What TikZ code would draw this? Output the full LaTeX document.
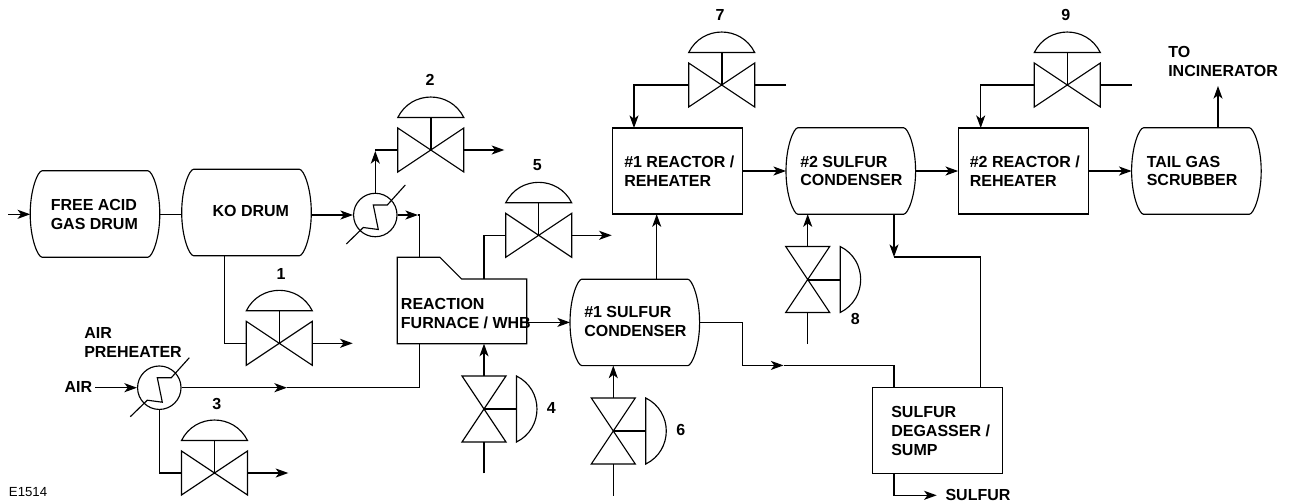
\documentclass[tikz,border=0pt]{standalone}
\usepackage{fontspec}
\setmainfont{Liberation Sans}
\usetikzlibrary{arrows.meta,calc}
\tikzset{
  ln/.style={line width=0.85pt,line join=miter},
  arw/.style={ln,-{Stealth[length=9.5pt,width=6.8pt,inset=2.6pt]}},
  boxnode/.style={rectangle,draw,line width=0.85pt,inner sep=0},
  ghost/.style={rectangle,inner sep=0,outer sep=0},
  lab/.style={font=\bfseries\fontsize{12}{14}\selectfont,align=left,anchor=west,inner sep=0},
  num/.style={font=\bfseries\fontsize{12}{14}\selectfont,inner sep=0},
  hv/.style={ghost,minimum width=49.5pt,minimum height=33pt},
  vv/.style={ghost,minimum width=33pt,minimum height=49.5pt},
  drumshape/.style={ghost,minimum width=97.2pt,minimum height=64.8pt},
}
% horizontal valve: name, cx, cy, stem width
\newcommand{\hvalve}[4]{
  \node[hv] (#1) at (#2,#3) {};
  \draw[ln] (#1.north west) -- (#1.south east) -- (#1.north east) -- (#1.south west) -- cycle;
  \draw[ln] (#2-33,#3-32.5) .. controls (#2-19.5,#3-59.8) and (#2+19.5,#3-59.8) .. (#2+33,#3-32.5) -- cycle;
  \draw[line width=#4] (#1.center) -- (#2,#3-32.5);
}
% vertical valve: name, cx, cy, stem width
\newcommand{\vvalve}[4]{
  \node[vv] (#1) at (#2,#3) {};
  \draw[ln] (#1.north west) -- (#1.north east) -- (#1.south west) -- (#1.south east) -- cycle;
  \draw[ln] (#2+32.5,#3-33) .. controls (#2+59.8,#3-19.5) and (#2+59.8,#3+19.5) .. (#2+32.5,#3+33) -- cycle;
  \draw[line width=#4] (#1.center) -- (#2+32.5,#3);
}
% drum: name, cx, cy
\newcommand{\drum}[3]{
  \node[drumshape] (#1) at (#2,#3) {};
  \draw[ln] (#2-53,#3-43.2) -- (#2+53,#3-43.2)
    .. controls (#2+57,#3-43.2) and (#2+64.8,#3-25) .. (#2+64.8,#3)
    .. controls (#2+64.8,#3+25) and (#2+57,#3+43.2) .. (#2+53,#3+43.2)
    -- (#2-53,#3+43.2)
    .. controls (#2-57,#3+43.2) and (#2-64.8,#3+25) .. (#2-64.8,#3)
    .. controls (#2-64.8,#3-25) and (#2-57,#3-43.2) .. (#2-53,#3-43.2) -- cycle;
}
% heat exchanger: name, cx, cy
\newcommand{\hx}[3]{
  \node[circle,draw,line width=0.85pt,inner sep=0,minimum size=32.6pt] (#1) at (#2,#3) {};
  \draw[ln] (#2-29,#3+29) -- (#2-12,#3+12.5) -- (#2+3,#3+14.5) -- (#2-2,#3-10) -- (#2+12,#3-10) -- (#2+30,#3-30);
}
\begin{document}
\begin{tikzpicture}[x=0.75pt,y=-0.75pt]
\useasboundingbox (0,0) rectangle (1289,501);

% vessels
\drum{free}{95}{214}
\drum{ko}{246.5}{212.5}
\drum{sc1}{634.8}{322.4}
\drum{sc2}{850.8}{171}
\drum{tail}{1196.4}{171}

% boxes
\node[boxnode,minimum width=97.5pt,minimum height=64.5pt] (r1) at (677.8,171) {};
\node[boxnode,minimum width=97.5pt,minimum height=64.5pt] (r2) at (1023.7,171) {};
\node[boxnode,minimum width=97.5pt,minimum height=64.8pt] (deg) at (937.3,430.5) {};

% furnace
\node[ghost,minimum width=97pt,minimum height=64.8pt] (furn) at (462,300.5) {};
\draw[ln] (397.3,257.3) -- (440,257.3) -- (461.7,279) -- (526.7,279) -- (526.7,343.7) -- (397.3,343.7) -- cycle;

% valves
\hvalve{v1}{279.3}{343.3}{1.1pt}
\hvalve{v2}{430.8}{150}{1.1pt}
\hvalve{v3}{214.5}{473}{0.9pt}
\vvalve{v4}{484}{409}{1.5pt}
\hvalve{v5}{538.7}{235.3}{1.1pt}
\vvalve{v6}{613.3}{431}{1.5pt}
\hvalve{v7}{721.7}{85}{1.5pt}
\vvalve{v8}{807.7}{279.5}{1.5pt}
\hvalve{v9}{1067.3}{85}{0.9pt}

% heat exchangers
\hx{hxt}{375.3}{215}
\hx{hxa}{159.3}{387.7}

% free ends and bends
\coordinate (in) at (8,214.3);
\coordinate (airin) at (95,387.7);
\coordinate (ftop) at (419.3,257.3);
\coordinate (fbot) at (419.3,343.7);
\coordinate (hxtout) at (418,215);
\coordinate (hxaout) at (287,387.7);
\coordinate (v1out) at (352.7,343.3);
\coordinate (v2out) at (504.3,150);
\coordinate (v2tip) at (375.3,151);
\coordinate (v3out) at (288.3,473);
\coordinate (v5out) at (611.7,235.3);
\coordinate (v4in) at (484,473.3);
\coordinate (v6in) at (613.3,495.7);
\coordinate (v7in) at (786,85);
\coordinate (v8in) at (807.7,344);
\coordinate (v9in) at (1131.7,85);
\coordinate (scm) at (783.5,365.4);
\coordinate (sc2drop) at (894,257);
\coordinate (sulf) at (936.7,495.3);
\coordinate (inc) at (1218,86);

% connectors
\draw[arw] (in) -- (free.west |- in);
\draw[ln] (free.east |- in) -- (ko.west |- in);
\draw[arw] (ko.east |- hxt.west) -- (hxt.west);
\draw[arw] (hxt.east) -- (hxtout);
\draw[ln] (hxtout) -| (ftop);
\draw[arw] (hxt.north) -- (v2tip);
\draw[ln] (v2tip) |- (v2.west);
\draw[arw] (v2.east) -- (v2out);
\draw[ln] (224.7,255.7) |- (v1.west);
\draw[arw] (v1.east) -- (v1out);
\draw[arw] (airin) -- (hxa.west);
\draw[arw] (hxa.east) -- (hxaout);
\draw[ln] (hxaout) -| (fbot);
\draw[ln] (hxa.south) |- (v3.west);
\draw[arw] (v3.east) -- (v3out);
\draw[ln] (484,279) |- (v5.west);
\draw[arw] (v5.east) -- (v5out);
\draw[arw] (furn.east |- sc1.west) -- (sc1.west);
\draw[arw] (v4.north) -- (v4.north |- furn.south);
\draw[ln] (v4in) -- (v4.south);
\draw[arw] (v6.north) -- (v6.north |- sc1.south);
\draw[ln] (v6in) -- (v6.south);
\draw[arw] (656.7,279) -- (656.7,214.2);
\draw[arw] (sc1.east) -| (742.7,365.4) -- (scm);
\draw[ln] (scm) -| (894,387.3);
\draw[ln] (v7in) -- (v7.east);
\draw[arw] (v7.west) -| (634,128);
\draw[arw] (r1.east) -- (r1.east -| sc2.west);
\draw[arw] (sc2.east) -- (r2.west);
\draw[arw] (r2.east) -- (tail.west);
\draw[ln] (v9in) -- (v9.east);
\draw[arw] (v9.west) -| (980.7,128);
\draw[arw] (1218,128) -- (inc);
\draw[arw] (v8.north) -- (v8.north |- sc2.south);
\draw[ln] (v8in) -- (v8.south);
\draw[arw] (894,214.2) -- (sc2drop);
\draw[ln] (sc2drop) -| (980.7,387.3);
\draw[arw] (894,473.7) |- (sulf);

% labels
\node[lab] (tfree) at (50.5,214.7) {FREE ACID\\GAS DRUM};
\node[lab] (tko) at (212.3,210.5) {KO DRUM};
\node[lab] (tfurn) at (400.7,313.5) {REACTION\\FURNACE / WHB};
\node[lab] (tsc1) at (584,321.8) {\#1 SULFUR\\CONDENSER};
\node[lab] (tr1) at (624,171) {\#1 REACTOR /\\REHEATER};
\node[lab] (tsc2) at (800,171) {\#2 SULFUR\\CONDENSER};
\node[lab] (tr2) at (969.5,171) {\#2 REACTOR /\\REHEATER};
\node[lab] (ttail) at (1146.5,171) {TAIL GAS\\SCRUBBER};
\node[lab] (tinc) at (1168,61.2) {TO\\INCINERATOR};
\node[lab] (tdeg) at (891,431) {SULFUR\\DEGASSER /\\SUMP};
\node[lab] (tsul) at (945.3,494.5) {SULFUR};
\node[lab] (tair) at (64.3,386.7) {AIR};
\node[lab] (tpre) at (84,342.2) {AIR\\PREHEATER};
\node[lab,font=\fontsize{9.9}{12}\selectfont] (tcode) at (8.7,491.7) {E1514};
\node[num] (n1) at (281,273.7) {1};
\node[num] (n2) at (430,79.5) {2};
\node[num] (n3) at (216.7,403.7) {3};
\node[num] (n4) at (551.3,407.7) {4};
\node[num] (n5) at (537.3,164.7) {5};
\node[num] (n6) at (680.7,429.7) {6};
\node[num] (n7) at (720,14.7) {7};
\node[num] (n8) at (855.3,319.3) {8};
\node[num] (n9) at (1065.7,14.7) {9};
\end{tikzpicture}
\end{document}
